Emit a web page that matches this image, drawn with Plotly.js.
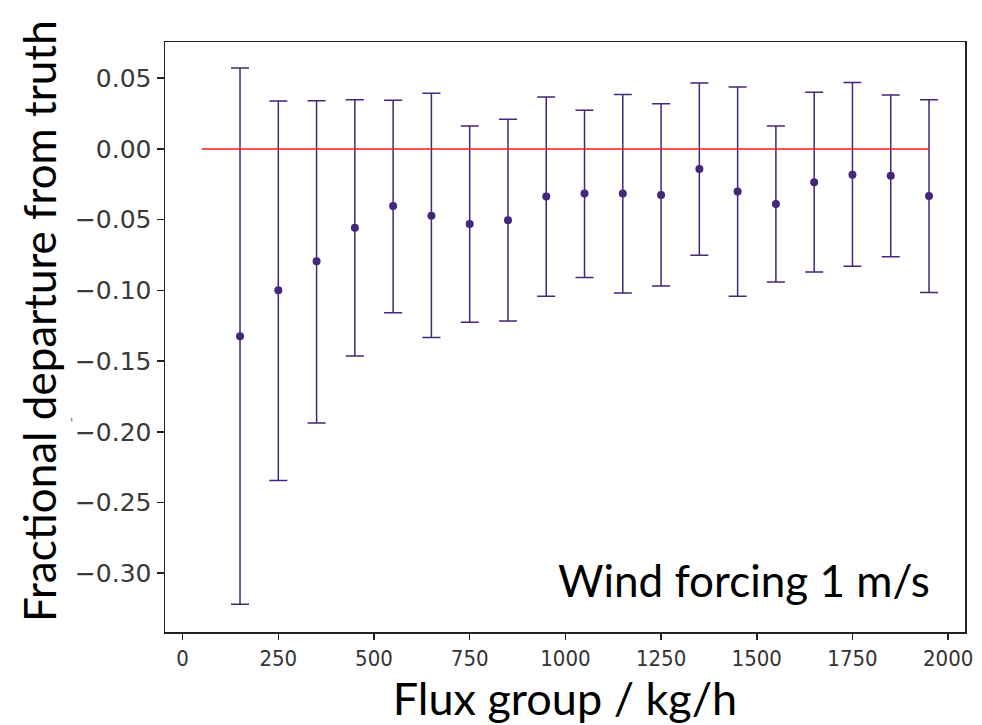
<!DOCTYPE html>
<html>
<head>
<meta charset="utf-8">
<script src="https://cdn.plot.ly/plotly-3.0.1.min.js"></script>
<style>html,body{margin:0;padding:0;background:#fff;}#chart{width:982px;height:725px;}</style>
</head>
<body>
<div id="chart"></div>
<script>
// Flux groups (kg/h)
const fluxGroups = [150, 250, 350, 450, 550, 650, 750, 850, 950, 1050, 1150, 1250, 1350, 1450, 1550, 1650, 1750, 1850, 1950];
// Mean fractional departure
const meanDeparture = [-0.1325, -0.1000, -0.0795, -0.0557, -0.0403, -0.0472, -0.0531, -0.0505, -0.0337, -0.0316, -0.0316, -0.0326, -0.0142, -0.0302, -0.0390, -0.0236, -0.0182, -0.0189, -0.0333];
// Upper end of error bar
const upperEnd = [0.0572, 0.0339, 0.0341, 0.0348, 0.0344, 0.0393, 0.0162, 0.0209, 0.0367, 0.0273, 0.0384, 0.0320, 0.0466, 0.0438, 0.0162, 0.0400, 0.0469, 0.0381, 0.0348];
// Lower end of error bar
const lowerEnd = [-0.3220, -0.2345, -0.1938, -0.1464, -0.1158, -0.1334, -0.1226, -0.1217, -0.1042, -0.0910, -0.1019, -0.0969, -0.0752, -0.1042, -0.0941, -0.0870, -0.0830, -0.0762, -0.1016];
// Truth reference line
const truthX = [50, 1950];
const truthY = [0, 0];
// Tick labels
const xTickVals = [0, 250, 500, 750, 1000, 1250, 1500, 1750, 2000];
const xTickText = ["0", "250", "500", "750", "1000", "1250", "1500", "1750", "2000"];
const yTickVals = [0.05, 0.00, -0.05, -0.10, -0.15, -0.20, -0.25, -0.30];
const yTickText = ["0.05", "0.00", "\u22120.05", "\u22120.10", "\u22120.15", "\u22120.20", "\u22120.25", "\u22120.30"];

const errPlus = upperEnd.map((u, i) => u - meanDeparture[i]);
const errMinus = lowerEnd.map((l, i) => meanDeparture[i] - l);

const purple = 'rgb(70,38,122)';

const traces = [
  {
    type: 'scatter', mode: 'markers',
    x: fluxGroups, y: meanDeparture,
    marker: {color: purple, size: 8},
    error_y: {type: 'data', symmetric: false, array: errPlus, arrayminus: errMinus,
              color: purple, thickness: 1.5, width: 9},
    showlegend: false, hoverinfo: 'skip'
  },
  {
    type: 'scatter', mode: 'lines',
    x: truthX, y: truthY,
    line: {color: '#ff1a1a', width: 1.5},
    showlegend: false, hoverinfo: 'skip'
  }
];

const layout = {
  width: 982, height: 725,
  margin: {l: 165, r: 17, t: 42, b: 93},
  paper_bgcolor: '#fff', plot_bgcolor: '#fff',
  showlegend: false,
  xaxis: {
    range: [-46, 2044], tickvals: xTickVals, ticktext: xTickText,
    ticks: 'outside', ticklen: 6, tickwidth: 1.5, tickcolor: '#222',
    showline: true, mirror: true, linecolor: '#222', linewidth: 1.5,
    showgrid: false, zeroline: false,
    tickfont: {family: 'DejaVu Sans Condensed, DejaVu Sans', size: 22, color: '#333'},
    title: {text: 'Flux group / kg/h', font: {family: 'Lato', size: 45, color: '#000'}, standoff: 12}
  },
  yaxis: {
    range: [-0.3416, 0.0756], tickvals: yTickVals, ticktext: yTickText,
    ticks: 'outside', ticklen: 7, tickwidth: 1.5, tickcolor: '#222',
    showline: true, mirror: true, linecolor: '#222', linewidth: 1.5,
    showgrid: false, zeroline: false,
    tickfont: {family: 'DejaVu Sans', size: 25, color: '#3a3a3a'}
  },
  annotations: [
    {xref: 'paper', yref: 'paper', x: -0.157, y: 0.528, xanchor: 'center', yanchor: 'middle', textangle: -90,
     text: 'Fractional departure from truth', showarrow: false, font: {family: 'Lato', size: 44, color: '#000'}},
    {xref: 'paper', yref: 'paper', x: 0.959, y: 0.04, xanchor: 'right', yanchor: 'bottom',
     text: 'Wind forcing 1 m/s', showarrow: false, font: {family: 'Lato', size: 44, color: '#000'}},
    {xref: 'paper', yref: 'paper', x: -0.1175, y: 0.355, xanchor: 'center', yanchor: 'middle',
     text: "'", showarrow: false, font: {family: 'DejaVu Sans', size: 12, color: '#666'}}
  ]
};

Plotly.newPlot('chart', traces, layout, {displayModeBar: false, staticPlot: true});
</script>
</body>
</html>
